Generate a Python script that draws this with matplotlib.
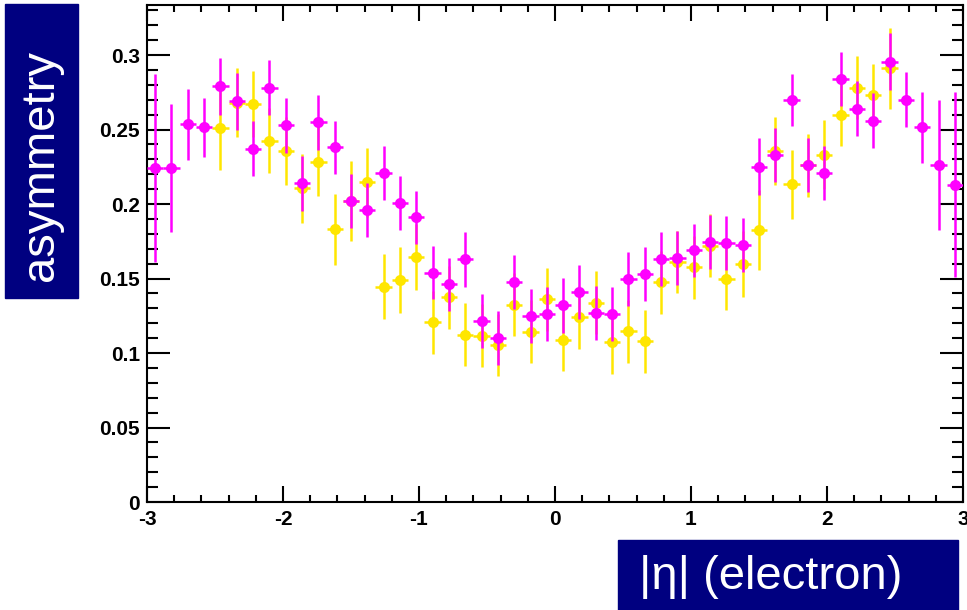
import matplotlib
matplotlib.use("Agg")
import matplotlib.pyplot as plt
from matplotlib import font_manager
from matplotlib.patches import Rectangle
from matplotlib.ticker import MultipleLocator, FuncFormatter

# bin centres in eta (50 bins from -3 to 3)
eta = [-2.94, -2.82, -2.70, -2.58, -2.46, -2.34, -2.22, -2.10, -1.98, -1.86,
       -1.74, -1.62, -1.50, -1.38, -1.26, -1.14, -1.02, -0.90, -0.78, -0.66,
       -0.54, -0.42, -0.30, -0.18, -0.06, 0.06, 0.18, 0.30, 0.42, 0.54,
       0.66, 0.78, 0.90, 1.02, 1.14, 1.26, 1.38, 1.50, 1.62, 1.74,
       1.86, 1.98, 2.10, 2.22, 2.34, 2.46, 2.58, 2.70, 2.82, 2.94]

# magenta series (all bins)
asym_m = [0.224, 0.224, 0.2535, 0.2515, 0.279, 0.269, 0.237, 0.278, 0.253, 0.214,
          0.255, 0.238, 0.202, 0.196, 0.221, 0.2005, 0.191, 0.154, 0.146, 0.163,
          0.1215, 0.110, 0.1475, 0.125, 0.126, 0.132, 0.141, 0.127, 0.126, 0.1495,
          0.153, 0.163, 0.1636, 0.169, 0.1745, 0.174, 0.1725, 0.225, 0.233, 0.270,
          0.226, 0.221, 0.284, 0.264, 0.256, 0.2955, 0.270, 0.2515, 0.226, 0.213]
err_m = [0.063, 0.043, 0.024, 0.020, 0.019, 0.019, 0.0185, 0.0185, 0.0185, 0.0185,
         0.0185, 0.018, 0.018, 0.018, 0.018, 0.018, 0.018, 0.018, 0.018, 0.0185,
         0.018, 0.018, 0.018, 0.018, 0.018, 0.0185, 0.018, 0.018, 0.018, 0.018,
         0.018, 0.018, 0.018, 0.0178, 0.018, 0.018, 0.0183, 0.019, 0.018, 0.0175,
         0.018, 0.018, 0.0183, 0.0185, 0.0185, 0.019, 0.0185, 0.024, 0.0435, 0.062]

# yellow series (|eta| < 2.52 only, bins 4..45)
eta_y = eta[4:46]
asym_y = [0.251, 0.268, 0.267, 0.2425, 0.2356, 0.2105, 0.2284, 0.183, 0.202, 0.2145,
          0.1445, 0.149, 0.1646, 0.1206, 0.1374, 0.1123, 0.1116, 0.1053, 0.1324, 0.1143,
          0.136, 0.1087, 0.124, 0.1338, 0.1072, 0.1146, 0.1079, 0.1475, 0.161, 0.1575,
          0.172, 0.1497, 0.1597, 0.1826, 0.2356, 0.2132, 0.226, 0.2331, 0.2597, 0.2781,
          0.2732, 0.2911]
err_y = [0.028, 0.023, 0.022, 0.022, 0.023, 0.023, 0.023, 0.024, 0.027, 0.023,
         0.022, 0.022, 0.022, 0.021, 0.021, 0.021, 0.021, 0.021, 0.021, 0.021,
         0.021, 0.021, 0.021, 0.021, 0.021, 0.021, 0.021, 0.021, 0.021, 0.021,
         0.021, 0.021, 0.022, 0.027, 0.023, 0.023, 0.021, 0.023, 0.021, 0.021,
         0.021, 0.027]

YELLOW = "#ffe600"
MAGENTA = "#ff00ff"
NAVY = "#000080"

plt.rcParams["axes.unicode_minus"] = False
names = {f.name for f in font_manager.fontManager.ttflist}
narrow = "Liberation Sans Narrow" in names

W, H = 967, 610
fig = plt.figure(figsize=(W / 100, H / 100), dpi=100)
ax = fig.add_axes([147 / W, 1 - 502 / H, (963 - 147) / W, (502 - 5) / H])

ax.errorbar(eta_y, asym_y, yerr=err_y, xerr=0.06, fmt="o", color=YELLOW,
            ms=8, mew=0, elinewidth=1.8, capsize=0, zorder=2)
ax.errorbar(eta, asym_m, yerr=err_m, xerr=0.06, fmt="o", color=MAGENTA,
            ms=8, mew=0, elinewidth=1.8, capsize=0, zorder=3)

ax.set_xlim(-3, 3)
ax.set_ylim(0, 0.3336)
ax.xaxis.set_major_locator(MultipleLocator(1))
ax.xaxis.set_minor_locator(MultipleLocator(0.2))
ax.yaxis.set_major_locator(MultipleLocator(0.05))
ax.yaxis.set_minor_locator(MultipleLocator(0.01))
ax.yaxis.set_major_formatter(FuncFormatter(lambda v, p: "%g" % round(v, 3)))
ax.xaxis.set_major_formatter(FuncFormatter(lambda v, p: "%g" % round(v, 3)))

ax.tick_params(which="both", direction="in", top=True, right=True, width=1.5, colors="black")
ax.tick_params(axis="x", which="major", length=11.5, pad=6)
ax.tick_params(axis="x", which="minor", length=5)
ax.tick_params(axis="y", which="major", length=16.5, pad=5)
ax.tick_params(axis="y", which="minor", length=8)
for lab in ax.get_xticklabels() + ax.get_yticklabels():
    lab.set_fontfamily("Liberation Sans")
    lab.set_fontweight("bold")
    lab.set_fontsize(15)
for sp in ax.spines.values():
    sp.set_linewidth(1.5)

# label boxes
fig.patches.append(Rectangle((5 / W, 1 - 298 / H), 73 / W, 294 / H,
                             transform=fig.transFigure, color=NAVY, zorder=0))
fig.patches.append(Rectangle((618 / W, 0), 340 / W, 70 / H,
                             transform=fig.transFigure, color=NAVY, zorder=0))
if narrow:
    fam, s1, s2 = ["Liberation Sans Narrow", "Liberation Sans"], 41, 39
else:
    fam, s1, s2 = ["Liberation Sans", "DejaVu Sans"], 34, 34
fig.text(41 / W, 1 - 166 / H, "asymmetry", rotation=90, color="white",
         family=fam, fontsize=s1, ha="center", va="center")
fig.text(771 / W, 1 - 577 / H, "|η| (electron)", color="white",
         family=fam, fontsize=s2, ha="center", va="center")

fig.savefig("out.png", dpi=100)
